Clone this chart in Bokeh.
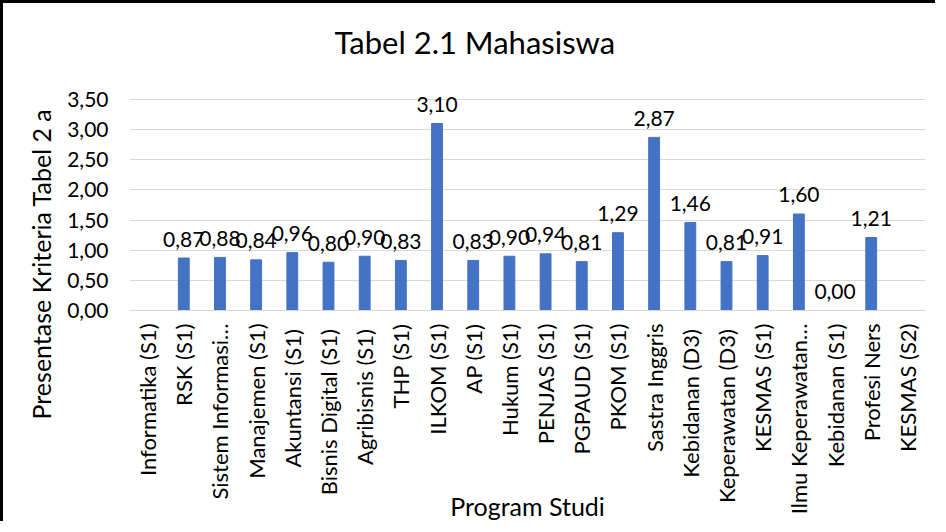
import math
from bokeh.plotting import figure
from bokeh.models import ColumnDataSource, Title
from bokeh.core.properties import value
from bokeh.embed import file_html
from bokeh.resources import INLINE

categories = ["Informatika (S1)", "RSK (S1)", "Sistem Informasi…", "Manajemen (S1)",
              "Akuntansi  (S1)", "Bisnis Digital  (S1)", "Agribisnis  (S1)", "THP (S1)",
              "ILKOM (S1)", "AP (S1)", "Hukum (S1)", "PENJAS (S1)", "PGPAUD (S1)",
              "PKOM (S1)", "Sastra Inggris", "Kebidanan  (D3)", "Keperawatan  (D3)",
              "KESMAS (S1)", "Ilmu Keperawatan…", "Kebidanan (S1)", "Profesi Ners",
              "KESMAS (S2)"]
values = [None, 0.87, 0.88, 0.84, 0.96, 0.80, 0.90, 0.83, 3.10, 0.83, 0.90, 0.94,
          0.81, 1.29, 2.87, 1.46, 0.81, 0.91, 1.60, 0.00, 1.21, None]
y_ticks = [0, 0.5, 1.0, 1.5, 2.0, 2.5, 3.0, 3.5]
title_text = "Tabel 2.1 Mahasiswa"
y_title = "Presentase Kriteria Tabel 2 a"
x_title = "Program Studi"

FONT = "Lato"
W, H = 935, 521
TOP, BOTTOM = 66, 213
FRAME_H = H - TOP - BOTTOM          # 242 px, of which 212 px hold 0..3.5
y_end = 3.5 * FRAME_H / 212.0       # head room above 3,50 for the data labels

bar_src = ColumnDataSource(dict(x=categories,
                                top=[float("nan") if v is None else v for v in values]))
lab_x = [c for c, v in zip(categories, values) if v is not None]
lab_y = [v for v in values if v is not None]
lab_t = [f"{v:.2f}".replace(".", ",") for v in lab_y]
lab_src = ColumnDataSource(dict(x=lab_x, y=lab_y, t=lab_t))

p = figure(x_range=categories, y_range=(0, y_end), width=W, height=H,
           output_backend="svg", toolbar_location=None,
           min_border_left=126, min_border_right=13, min_border_top=TOP,
           min_border_bottom=BOTTOM)
p.styles = {"border-left": "3px solid black", "border-top": "3px solid black"}

p.vbar(x="x", top="top", width=0.3, source=bar_src, color="#4472C4")
p.text(x="x", y="y", text="t", source=lab_src, text_align="center",
       text_baseline="alphabetic", y_offset=-19, text_font=value(FONT),
       text_font_size="21px", text_color="#000000")

p.title.text = title_text
p.title.align = "left"
p.title.offset = 205
p.title.standoff = 17
p.title.text_font = FONT
p.title.text_font_size = "31px"
p.title.text_font_style = "normal"
p.title.text_color = "#000000"

p.add_layout(Title(text=y_title, align="left", offset=-109, standoff=17,
                   text_font=FONT, text_font_size="25px", text_font_style="normal",
                   text_color="#000000"), "left")

p.outline_line_color = None
p.xgrid.grid_line_color = None
p.ygrid.grid_line_color = "#d9d9d9"
p.ygrid.grid_line_width = 1

p.yaxis.ticker = y_ticks
p.yaxis.major_label_overrides = {t: f"{t:.2f}".replace(".", ",") for t in y_ticks}
p.yaxis.axis_line_color = None
p.yaxis.major_tick_line_color = None
p.yaxis.minor_tick_line_color = None
p.yaxis.major_label_standoff = 15
p.yaxis.major_label_text_font = FONT
p.yaxis.major_label_text_font_size = "21px"
p.yaxis.major_label_text_color = "#000000"

p.xaxis.axis_line_color = "#d9d9d9"
p.xaxis.major_tick_line_color = None
p.xaxis.minor_tick_line_color = None
p.xaxis.major_label_orientation = math.pi / 2
p.xaxis.major_label_standoff = 7
p.xaxis.major_label_text_font = FONT
p.xaxis.major_label_text_font_size = "22px"
p.xaxis.major_label_text_color = "#000000"
p.xaxis.axis_label = x_title
p.xaxis.axis_label_text_font = FONT
p.xaxis.axis_label_text_font_size = "25px"
p.xaxis.axis_label_text_font_style = "normal"
p.xaxis.axis_label_text_color = "#000000"
p.xaxis.axis_label_standoff = -26

open("out.html", "w").write(file_html(p, INLINE))
